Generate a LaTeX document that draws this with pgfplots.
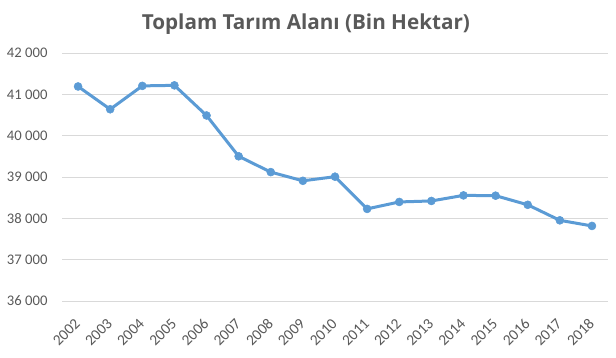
\documentclass[border=0pt]{standalone}
\usepackage{pgfplots}
\pgfplotsset{compat=1.18}
\usepackage{fontspec}
\setmainfont{Carlito}
\newfontfamily\titlefont{Open Sans}
\definecolor{txtc}{HTML}{595959}
\definecolor{gridc}{HTML}{D9D9D9}
\definecolor{linec}{HTML}{5B9BD5}
\begin{document}
\begin{tikzpicture}
\path[use as bounding box] (0,0) rectangle (462pt,267.75pt);
\node[anchor=base, text=txtc, inner sep=0pt] at (229.4pt,245.8pt) {\titlefont\bfseries\fontsize{15.5}{18}\selectfont Toplam Tarım Alanı (Bin Hektar)};
\begin{axis}[
  at={(46.5pt,42pt)}, anchor=south west,
  scale only axis, width=409.5pt, height=185.8pt,
  xmin=-0.5, xmax=16.5, ymin=36000, ymax=42000,
  ytick={36000,37000,...,42000},
  scaled y ticks=false,
  xtick={0,...,16},
  xticklabels={2002,2003,2004,2005,2006,2007,2008,2009,2010,2011,2012,2013,2014,2015,2016,2017,2018},
  xmajorgrids=false, ymajorgrids=true,
  major grid style={draw=gridc, line width=0.75pt},
  axis line style={draw=none},
  axis x line*=bottom, axis y line*=left,
  major tick length=0pt,
  tick style={draw=none},
  tick label style={font=\fontsize{11.5}{13}\selectfont, text=txtc},
  yticklabel style={anchor=east, inner sep=0pt, xshift=-10.7pt, font=\fontsize{11}{13}\selectfont},
  xticklabel style={rotate=45, anchor=north east, inner sep=0pt, xshift=-10.8pt, yshift=-6.4pt},
  /pgf/number format/assume math mode=true,
  /pgf/number format/1000 sep={\ },
  clip=false,
]
\addplot[color=linec, line width=2.25pt, mark=*, mark size=3pt, mark options={solid, fill=linec, draw=linec, line width=0.4pt}] coordinates {
(0,41196) (1,40644) (2,41210) (3,41223) (4,40493) (5,39505) (6,39122) (7,38911) (8,39011)
(9,38231) (10,38399) (11,38423) (12,38558) (13,38551) (14,38330) (15,37954) (16,37818)
};
\end{axis}
\end{tikzpicture}
\end{document}
